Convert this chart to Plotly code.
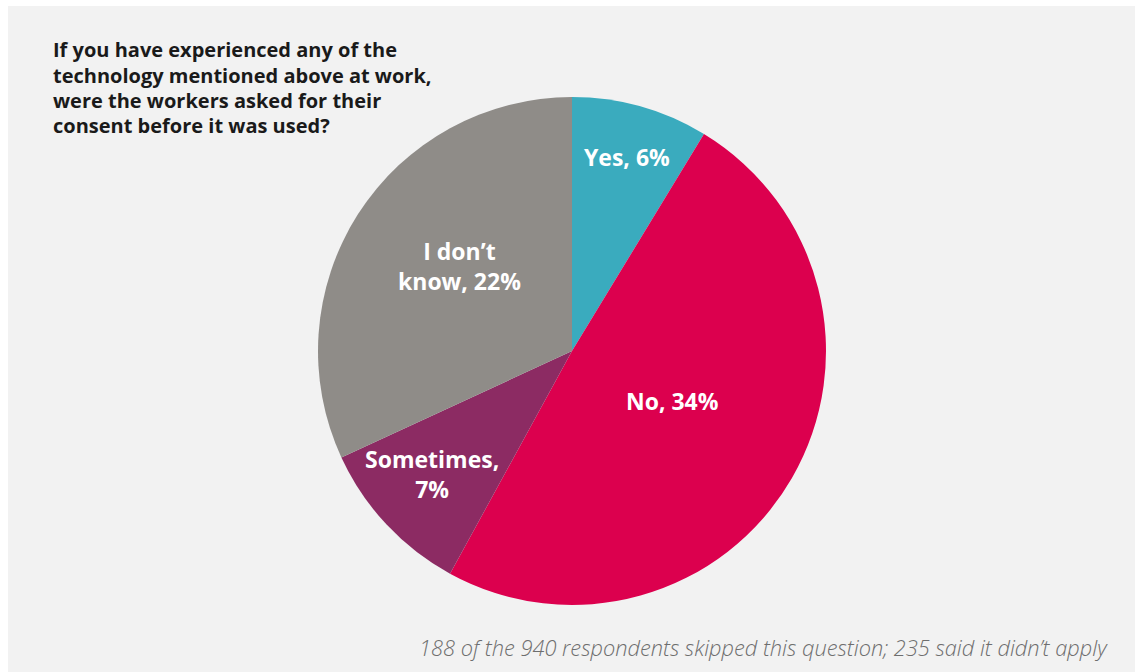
import plotly.graph_objects as go

# Survey answers (percent of all respondents)
categories = ["Yes", "No", "Sometimes", "I don\u2019t know"]
values = [6, 34, 7, 22]
slice_labels = ["Yes, 6%", "No, 34%", "Sometimes,<br>7%", "I don\u2019t<br>know, 22%"]
colors = ["#3aabbe", "#dc004e", "#8c2b63", "#8f8c88"]

title_lines = [
    "If you have experienced any of the",
    "technology mentioned above at work,",
    "were the workers asked for their",
    "consent before it was used?",
]
footer_text = "188 of the 940 respondents skipped this question; 235 said it didn\u2019t apply"

W, H = 1135, 672
cx, cy, r = 572, 351, 254
FONT = "Open Sans"

fig = go.Figure(go.Pie(
    labels=categories,
    values=values,
    sort=False,
    direction="clockwise",
    rotation=0,
    marker=dict(colors=colors, line=dict(width=0)),
    textinfo="none",
    hoverinfo="label+value",
    showlegend=False,
    domain=dict(x=[(cx - r) / W, (cx + r) / W], y=[1 - (cy + r) / H, 1 - (cy - r) / H]),
))

# centre of each slice label block (pixels)
label_pos = [(627, 157), (672, 401), (432, 474), (459, 266)]
annotations = []
for txt, (px, py) in zip(slice_labels, label_pos):
    annotations.append(dict(
        text=txt, x=px / W, y=1 - py / H, xref="paper", yref="paper",
        showarrow=False, xanchor="center", yanchor="middle", align="center",
        font=dict(family=FONT, size=23, color="white", weight=700),
    ))

# question title, one annotation per line for even spacing
for i, line in enumerate(title_lines):
    annotations.append(dict(
        text=line, x=51 / W, y=1 - (50 + 25.3 * i) / H, xref="paper", yref="paper",
        showarrow=False, xanchor="left", yanchor="middle", align="left",
        font=dict(family=FONT, size=20, color="#1a1a1a", weight=700),
    ))

annotations.append(dict(
    text=footer_text, x=1110 / W, y=1 - 647 / H, xref="paper", yref="paper",
    showarrow=False, xanchor="right", yanchor="middle", align="right",
    font=dict(family=FONT, size=21.8, color="#6e6e6e", weight=300, style="italic"),
))

fig.update_layout(
    width=W, height=H,
    margin=dict(l=0, r=0, t=0, b=0),
    paper_bgcolor="white",
    plot_bgcolor="white",
    annotations=annotations,
    shapes=[dict(type="rect", xref="paper", yref="paper",
                 x0=8 / W, x1=1, y0=0, y1=1 - 6 / H,
                 fillcolor="#f2f2f2", line=dict(width=0), layer="below")],
)

fig.write_html("out.html")
